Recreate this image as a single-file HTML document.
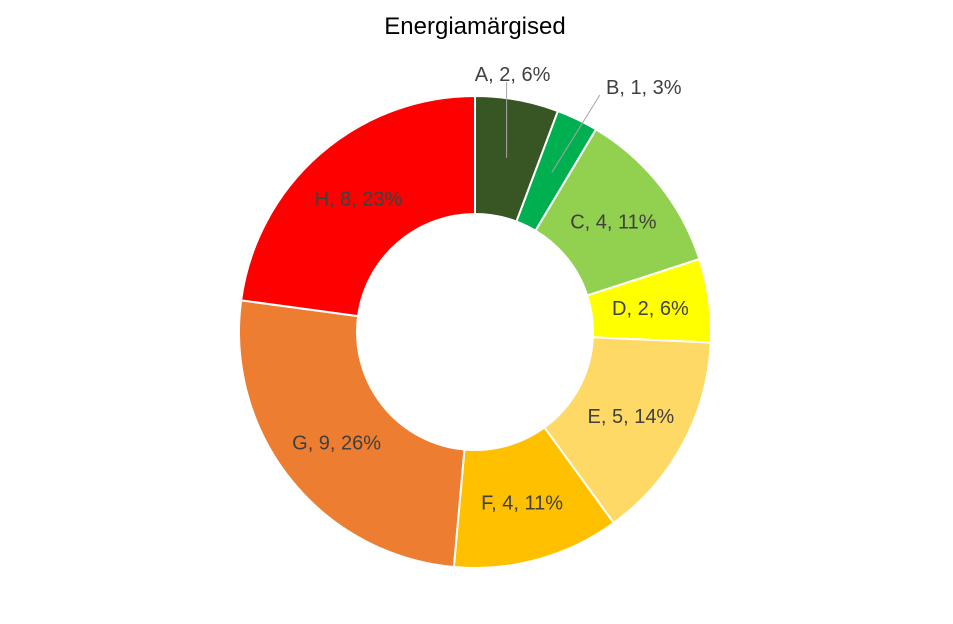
<!DOCTYPE html>
<html><head><meta charset="utf-8"><style>
html,body{margin:0;padding:0;background:#fff;}
svg text{font-family:"Liberation Sans",Calibri,sans-serif;}
</style></head><body>
<svg id="chart" width="953" height="619" viewBox="0 0 953 619">
<text x="475" y="34" text-anchor="middle" font-size="24" fill="#000">Energiamärgised</text>
<g id="slices"></g><g id="labels"></g>
</svg>
<script>
const categories=["A","B","C","D","E","F","G","H"];
const values=[2,1,4,2,5,4,9,8];
const percents=["6%","3%","11%","6%","14%","11%","26%","23%"];
const colors=["#375623","#00B050","#92D050","#FFFF00","#FFD966","#FFC000","#ED7D31","#FF0000"];
const cx=475,cy=332,R=236,r=118;
const total=values.reduce((a,b)=>a+b,0);
const ns="http://www.w3.org/2000/svg";
const gS=document.getElementById('slices'),gL=document.getElementById('labels');
function pt(a,rad){return [cx+rad*Math.sin(a),cy-rad*Math.cos(a)];}
let cum=0;
values.forEach((v,i)=>{
  const a0=cum/total*2*Math.PI,a1=(cum+v)/total*2*Math.PI;cum+=v;
  const large=(a1-a0)>Math.PI?1:0;
  const p0=pt(a0,R),p1=pt(a1,R),q1=pt(a1,r),q0=pt(a0,r);
  const path=document.createElementNS(ns,'path');
  path.setAttribute('d',`M${p0[0]},${p0[1]} A${R},${R} 0 ${large} 1 ${p1[0]},${p1[1]} L${q1[0]},${q1[1]} A${r},${r} 0 ${large} 0 ${q0[0]},${q0[1]} Z`);
  path.setAttribute('fill',colors[i]);path.setAttribute('stroke','#fff');path.setAttribute('stroke-width','2');
  
  
  gS.appendChild(path);
  const am=(a0+a1)/2;const m=pt(am,(R+r)/2);
  let lx=m[0],ly=m[1];
  const small=v/total<0.05||i===0;
  if(small){
    const t=document.createElementNS(ns,'line');
    if(i===0){lx=m[0]+6;ly=cy-258;}else{lx=m[0]+92;ly=cy-245;}
    t.setAttribute('x1',m[0]);t.setAttribute('y1',m[1]);
    t.setAttribute('x2',i===0?lx-6:lx-44);t.setAttribute('y2',ly+8);
    t.setAttribute('stroke','#a6a6a6');t.setAttribute('stroke-width','1');
    
    
    gL.appendChild(t);
  }
  const tx=document.createElementNS(ns,'text');
  tx.setAttribute('x',lx);tx.setAttribute('y',ly+7);
  tx.setAttribute('text-anchor','middle');tx.setAttribute('font-size','20');tx.setAttribute('fill','#404040');
  tx.textContent=categories[i]+", "+v+", "+percents[i];
  
  
  gL.appendChild(tx);
});
</script>
</body></html>
